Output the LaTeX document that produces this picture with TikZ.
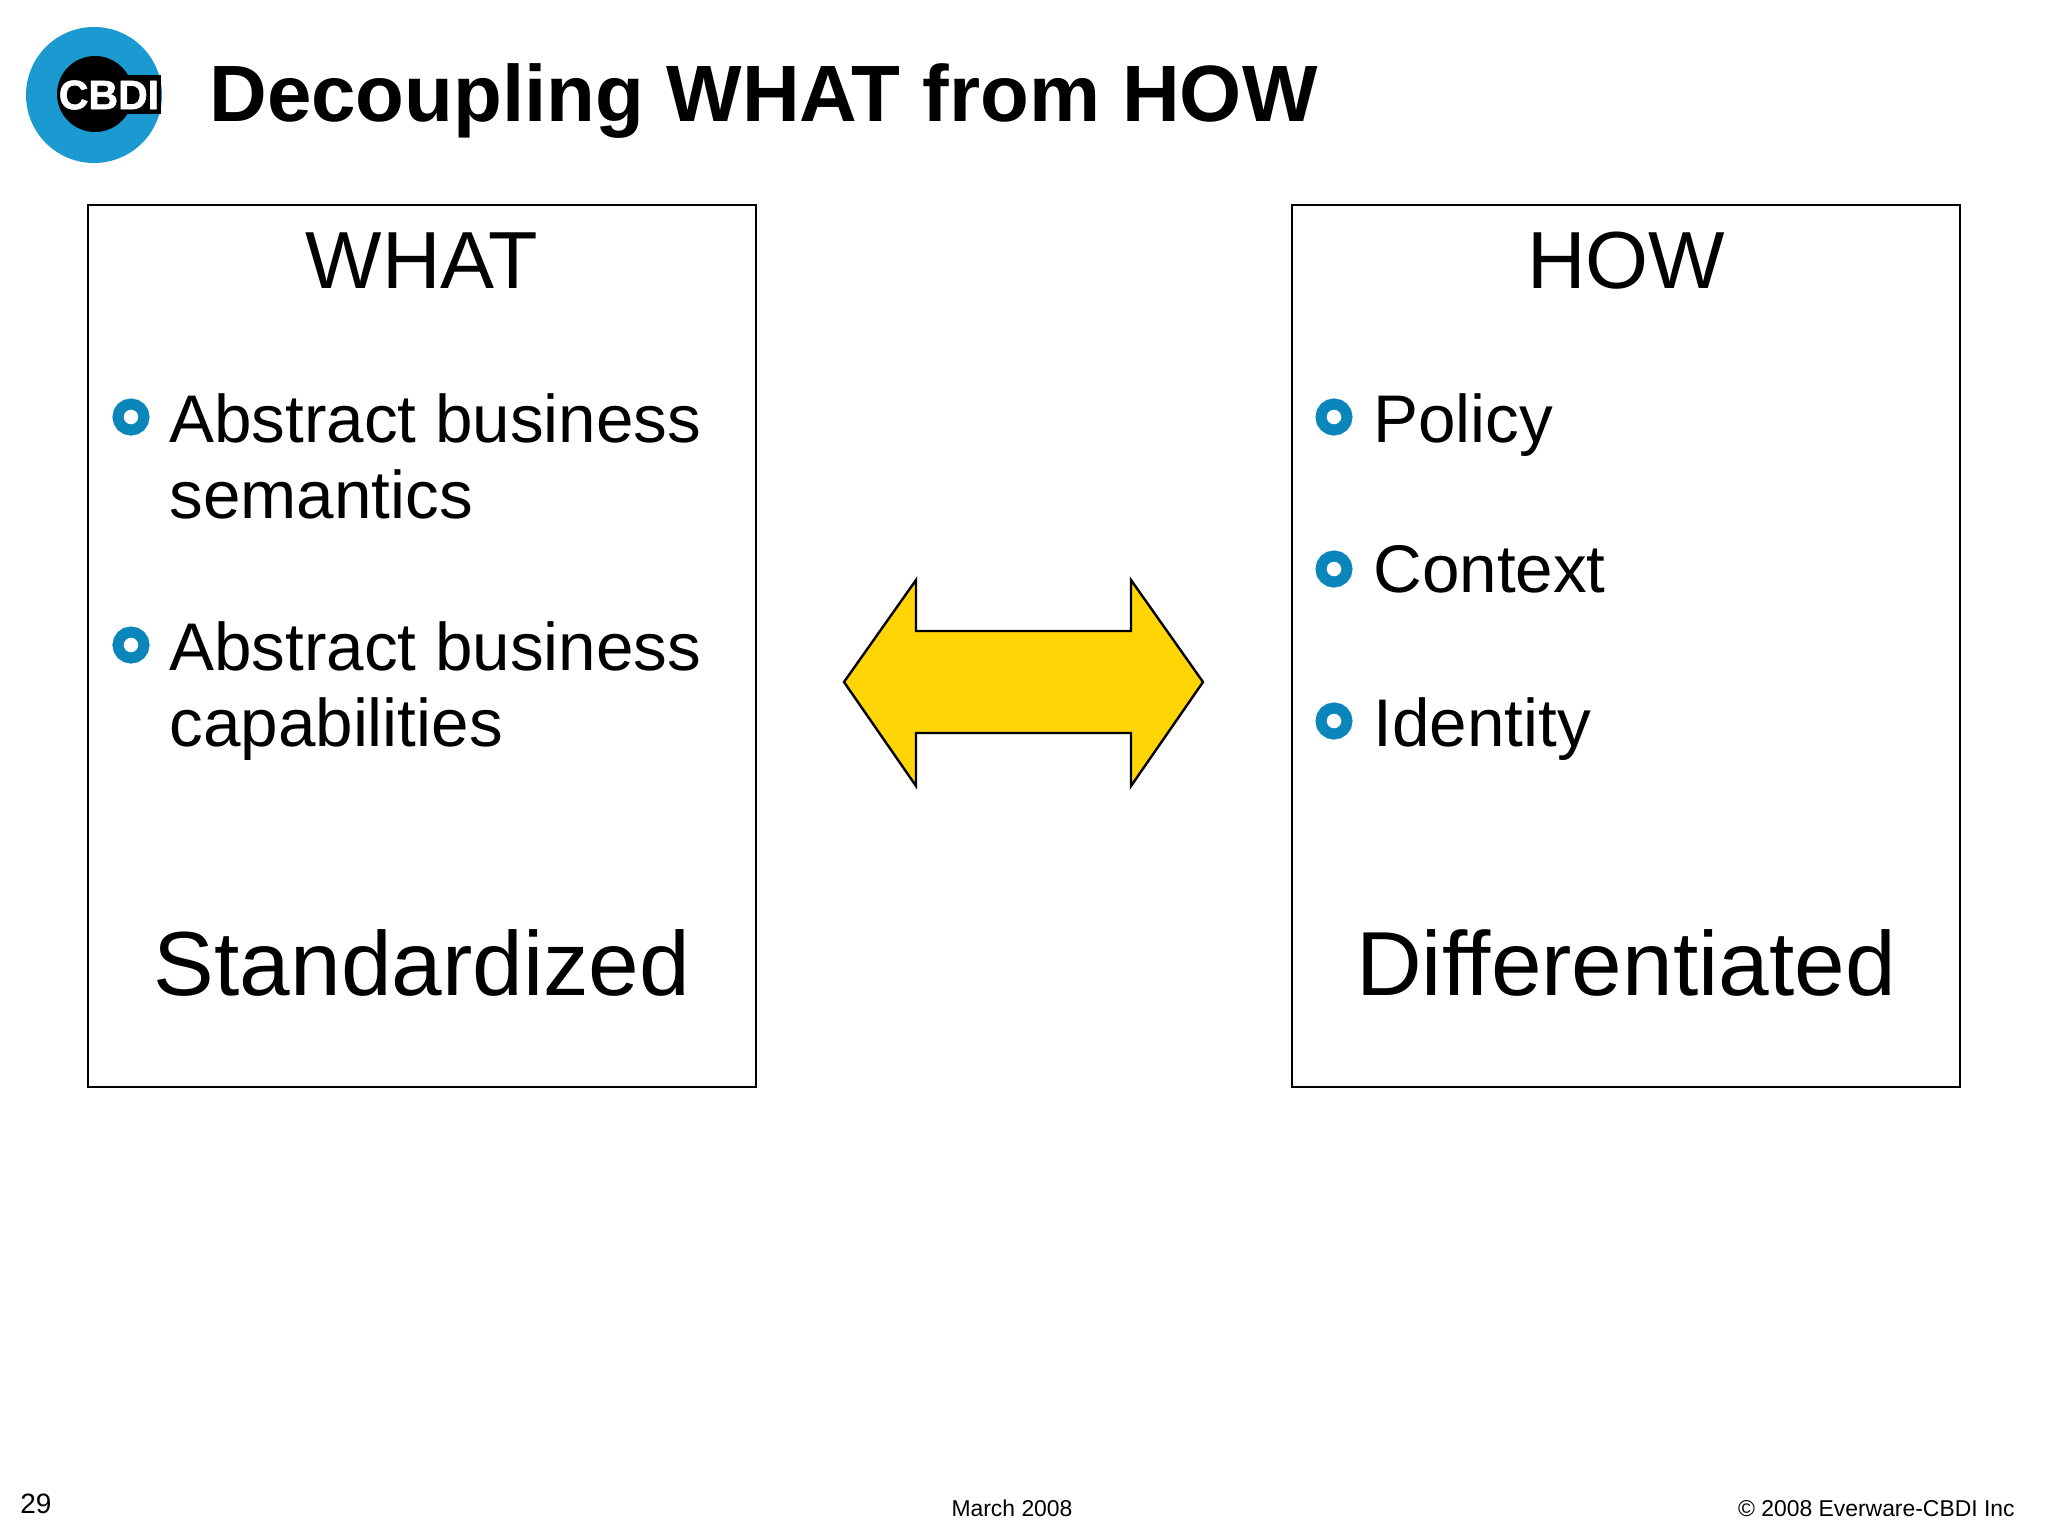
\documentclass[tikz,border=0pt]{standalone}
\usepackage{fontspec}
\setmainfont{Liberation Sans}
\definecolor{logoblue}{HTML}{1A9AD0}
\definecolor{bulletblue}{HTML}{0A86BB}
\definecolor{arrowyellow}{HTML}{FFD505}
\tikzset{
  panel/.style={draw=black,line width=1.1pt,minimum width=334pt,minimum height=441pt,inner sep=0pt,anchor=north west},
  ring/.style={circle,draw=bulletblue,line width=5.5pt,minimum size=13pt,inner sep=0pt,fill=white},
  heading/.style={font=\fontsize{40.5}{48}\selectfont,inner sep=0pt,anchor=base},
  item/.style={font=\fontsize{33.7}{38.3}\selectfont,inner sep=0pt,anchor=north west,align=left},
  verdict/.style={font=\fontsize{45.5}{54}\selectfont,inner sep=0pt,anchor=base},
  foot/.style={font=\fontsize{11.45}{14}\selectfont,inner sep=0pt,anchor=base},
}
\begin{document}
\begin{tikzpicture}[x=0.5pt,y=-0.5pt]
\useasboundingbox (0,0) rectangle (2048,1536);
% logo
\node[circle,fill=logoblue,minimum size=68pt,inner sep=0pt] (logo) at (94,95) {};
\node[circle,fill=black,minimum size=38pt,inner sep=0pt] (logocore) at (95,94) {};
\fill[black] (120,75) rectangle (161,114);
\node[text=white,inner sep=0pt,font=\fontsize{20.5}{26}\selectfont\bfseries\addfontfeature{FakeBold=1.5}] (logotext) at (109,95) {CBDI};
% title
\node[font=\fontsize{39.95}{48}\selectfont\bfseries,inner sep=0pt,anchor=base west] (title) at (209,121) {Decoupling WHAT from HOW};
% panels
\node[panel] (whatbox) at (86.5,203.5) {};
\node[panel] (howbox) at (1290.5,203.5) {};
\node[heading] (what) at (422,288) {WHAT};
\node[heading] (how) at (1626,288) {HOW};
% left items
\node[ring] (b1) at (131,417) {};
\node[item] (t1) at (169,393) {Abstract business\\semantics};
\node[ring] (b2) at (131,645) {};
\node[item] (t2) at (169,621) {Abstract business\\capabilities};
% right items
\node[ring] (b3) at (1334,417) {};
\node[item] (t3) at (1373,393) {Policy};
\node[ring] (b4) at (1334,569) {};
\node[item] (t4) at (1373,545) {Context};
\node[ring] (b5) at (1334,721) {};
\node[item] (t5) at (1373,697) {Identity};
% verdicts
\node[verdict] (std) at (422,995.5) {Standardized};
\node[verdict] (diff) at (1626,995.5) {Differentiated};
% arrow
\draw[fill=arrowyellow,draw=black,line width=1.2pt,line join=miter]
  (844,682) -- (916,580) -- (916,631) -- (1131,631) -- (1131,580) -- (1203,682) -- (1131,786) -- (1131,733) -- (916,733) -- (916,786) -- cycle;
% footer
\node[foot,font=\fontsize{14}{16}\selectfont,anchor=base west] (page) at (20,1513) {29};
\node[foot] (date) at (1012,1516) {March 2008};
\node[foot,anchor=base east] (copy) at (2015,1516) {© 2008 Everware-CBDI Inc};
\end{tikzpicture}
\end{document}
